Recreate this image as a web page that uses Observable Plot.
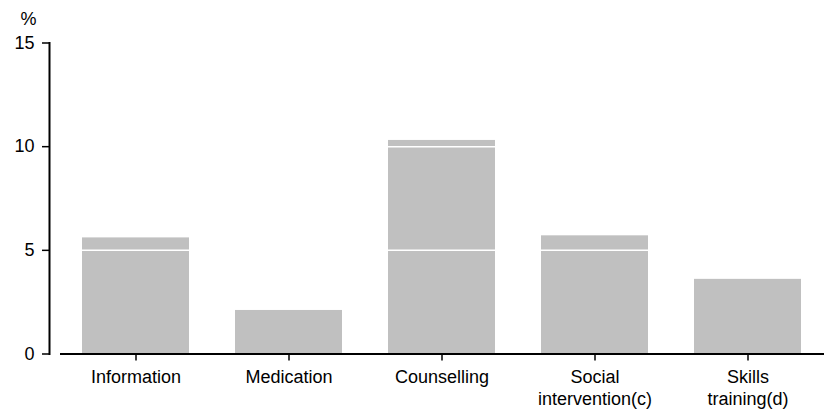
<!DOCTYPE html>
<html>
<head>
<meta charset="utf-8">
<script src="https://cdn.jsdelivr.net/npm/d3@7"></script>
<script src="https://cdn.jsdelivr.net/npm/@observablehq/plot@0.6"></script>
<style>
  html, body { margin: 0; padding: 0; background: #fff; }
  #chart svg { display: block; }
</style>
</head>
<body>
<div id="chart"></div>
<script>
const categories = ["Information", "Medication", "Counselling", "Social intervention(c)", "Skills training(d)"];
const tickLabels = ["Information", "Medication", "Counselling", "Social\nintervention(c)", "Skills\ntraining(d)"];
const values = [5.6, 2.1, 10.3, 5.7, 3.6];
const yTicks = [0, 5, 10, 15];
const gridValues = [5, 10];
const unitLabel = ["%"];

const data = categories.map((c, i) => ({category: c, value: values[i]}));
const labelMap = new Map(categories.map((c, i) => [c, tickLabels[i]]));

const chart = Plot.plot({
  width: 824,
  height: 412,
  marginLeft: 49,
  marginRight: 0,
  marginTop: 42.5,
  marginBottom: 58.5,
  style: {fontFamily: "'Liberation Sans', Arial, sans-serif", fontSize: "18px", color: "#000", background: "#fff"},
  x: {domain: categories, padding: 0.3, paddingOuter: 0.14, insetLeft: 11, label: null},
  y: {domain: [0, 15], label: null},
  marks: [
    Plot.barY(data, {x: "category", y: "value", fill: "#c0c0c0"}),
    Plot.ruleY(gridValues, {stroke: "#fff", strokeWidth: 1.5}),
    Plot.ruleY([0], {stroke: "#000", strokeWidth: 2, insetLeft: 11}),
    Plot.frame({anchor: "left", stroke: "#000", strokeWidth: 2}),
    Plot.axisY({ticks: yTicks, tickSize: 7, tickPadding: 8, tickFormat: d => String(d),
      fontSize: 18, stroke: "#000", strokeWidth: 1.5, fill: "#000", label: null}),
    Plot.text(unitLabel, {frameAnchor: "top-left", dx: -21, dy: -18, lineAnchor: "bottom", fontSize: 18, fill: "#000", textAnchor: "middle"}),
    Plot.axisX({tickSize: 7, tickPadding: 7, tickFormat: d => labelMap.get(d), fontSize: 18,
      stroke: "#000", strokeWidth: 1.5, fill: "#000", lineHeight: 1.2, label: null})
  ]
});
document.getElementById("chart").appendChild(chart);
</script>
</body>
</html>
